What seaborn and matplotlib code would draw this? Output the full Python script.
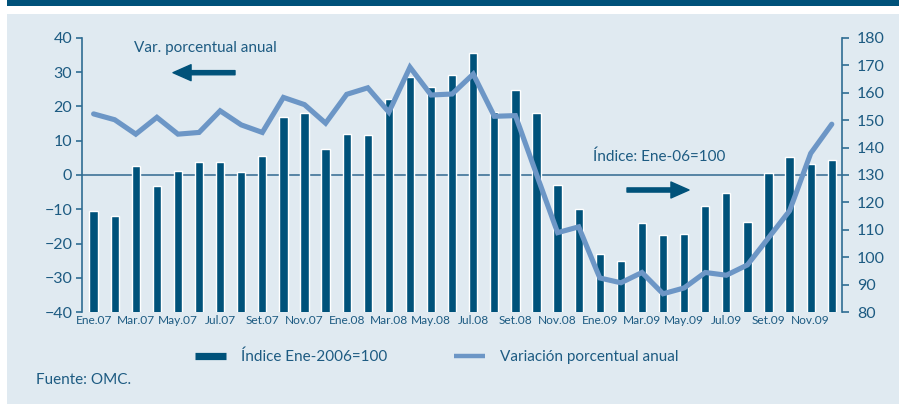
import numpy as np
import pandas as pd
import matplotlib
matplotlib.use("Agg")
import matplotlib.pyplot as plt
from matplotlib.patches import Rectangle
from matplotlib.lines import Line2D
import seaborn as sns

# months Ene.07 .. Dic.09
meses = ["Ene.07", "Feb.07", "Mar.07", "Abr.07", "May.07", "Jun.07",
         "Jul.07", "Ago.07", "Set.07", "Oct.07", "Nov.07", "Dic.07",
         "Ene.08", "Feb.08", "Mar.08", "Abr.08", "May.08", "Jun.08",
         "Jul.08", "Ago.08", "Set.08", "Oct.08", "Nov.08", "Dic.08",
         "Ene.09", "Feb.09", "Mar.09", "Abr.09", "May.09", "Jun.09",
         "Jul.09", "Ago.09", "Set.09", "Oct.09", "Nov.09", "Dic.09"]

# Indice Ene-2006=100 (right axis, bars)
indice = [117.0, 115.0, 133.1, 125.9, 131.6, 134.6, 134.9, 131.1, 137.1, 151.0,
          152.4, 139.3, 145.0, 144.5, 157.8, 165.6, 162.1, 166.4, 174.5, 153.1,
          160.9, 152.6, 126.4, 117.8, 101.1, 98.5, 112.5, 108.0, 108.6, 118.8,
          123.5, 112.9, 130.9, 136.6, 134.0, 135.3]

# Variacion porcentual anual (left axis, line)
variacion = [17.8, 16.1, 11.9, 16.8, 11.9, 12.4, 18.7, 14.6, 12.4, 22.6,
             20.5, 15.1, 23.5, 25.4, 18.3, 31.4, 23.3, 23.6, 29.4, 17.1,
             17.3, 0.2, -16.8, -15.1, -30.0, -31.4, -28.4, -34.6, -32.9, -28.4,
             -29.2, -26.2, -18.3, -10.4, 6.3, 14.8]

izq_ticks = list(range(-40, 41, 10))
der_ticks = list(range(80, 181, 10))

BAR = "#00527a"
LINE = "#6c96c6"
TXT = "#1d5b82"
SPINE = "#2f6d93"
PANEL = "#e0eaf1"

df = pd.DataFrame({"pos": np.arange(len(meses)), "mes": meses,
                   "indice": indice, "variacion": variacion})

sns.set_style("ticks")
plt.rcParams["font.family"] = ["Lato", "DejaVu Sans"]

fig = plt.figure(figsize=(8.99, 4.04), dpi=100, facecolor="white")
fig.patches.append(Rectangle((7 / 899, 0), 1, 1 - 14 / 404, transform=fig.transFigure,
                             facecolor=PANEL, edgecolor="none", zorder=-10))
fig.patches.append(Rectangle((7 / 899, 1 - 5.7 / 404), 1, 5.7 / 404, transform=fig.transFigure,
                             facecolor=BAR, edgecolor="none", zorder=-10))

ax = fig.add_axes([82 / 899, 1 - 312.3 / 404, 759.7 / 899, 274.6 / 404])
ax2 = ax.twinx()

# bars on right axis
ax2.axhline(130, color="#4b7c9e", lw=1.3, zorder=0)
sns.barplot(data=df, x="pos", y="indice", ax=ax2, color=BAR, saturation=1,
            width=0.39, native_scale=True, zorder=2)
ax2.set_ylim(80, 180)

# line on left axis
sns.lineplot(data=df, x="pos", y="variacion", ax=ax, color=LINE, lw=3.7,
             solid_joinstyle="miter")
ax.set_ylim(-40, 40)

ax.set_zorder(ax2.get_zorder() + 1)
ax.patch.set_visible(False)
ax2.patch.set_visible(False)

ax.set_xlim(-0.55, 35.47)
ax.set_xticks(df["pos"][::2])
ax.set_xticklabels(df["mes"][::2], fontsize=8.6, color=TXT)
ax.tick_params(axis="x", length=0, pad=2)
ax.set_yticks(izq_ticks)
ax.tick_params(axis="y", direction="out", length=4, width=1.2, color=SPINE,
               labelcolor=TXT, labelsize=11.5, pad=3)
ax2.set_yticks(der_ticks)
ax2.tick_params(axis="y", direction="out", length=5, width=1.2, color=SPINE,
                labelcolor=TXT, labelsize=11.5, pad=6)

for a in (ax, ax2):
    a.set_xlabel("")
    a.set_ylabel("")
    for s in ("top", "bottom"):
        a.spines[s].set_visible(False)
ax.spines["right"].set_visible(False)
ax2.spines["left"].set_visible(False)
ax.spines["left"].set_color(SPINE)
ax.spines["left"].set_linewidth(1.2)
ax2.spines["right"].set_color(SPINE)
ax2.spines["right"].set_linewidth(1.2)

# annotations
arrow = dict(arrowstyle="simple,head_width=1.15,head_length=1.3,tail_width=0.3",
             mutation_scale=10, color=BAR, shrinkA=0, shrinkB=0)
ax.text(0.0684, 0.9625, "Var. porcentual anual", transform=ax.transAxes,
        fontsize=11, color=TXT, va="center", ha="left")
ax.annotate("", xy=(0.1198, 0.8726), xytext=(0.2014, 0.8726),
            xycoords="axes fraction", textcoords="axes fraction", arrowprops=arrow)
ax.text(0.6726, 0.5656, "Índice: Ene-06=100", transform=ax.transAxes,
        fontsize=11, color=TXT, va="center", ha="left")
ax.annotate("", xy=(0.799, 0.4454), xytext=(0.7174, 0.4454),
            xycoords="axes fraction", textcoords="axes fraction", arrowprops=arrow)

# legend
handles = [Line2D([], [], color=BAR, lw=5.2, solid_capstyle="butt"),
           Line2D([], [], color=LINE, lw=3.2, solid_capstyle="butt")]
fig.legend(handles, ["Índice Ene-2006=100", "Variación porcentual anual"],
           loc="center", bbox_to_anchor=(437 / 899, 1 - 357 / 404), ncol=2,
           frameon=False, fontsize=11, labelcolor=TXT, handlelength=2.0,
           handletextpad=1.0, columnspacing=4.4)

fig.text(36 / 899, 1 - 380 / 404, "Fuente: OMC.", fontsize=11, color=TXT,
         va="center", ha="left")

fig.savefig("out.png", dpi=100, facecolor=fig.get_facecolor())
